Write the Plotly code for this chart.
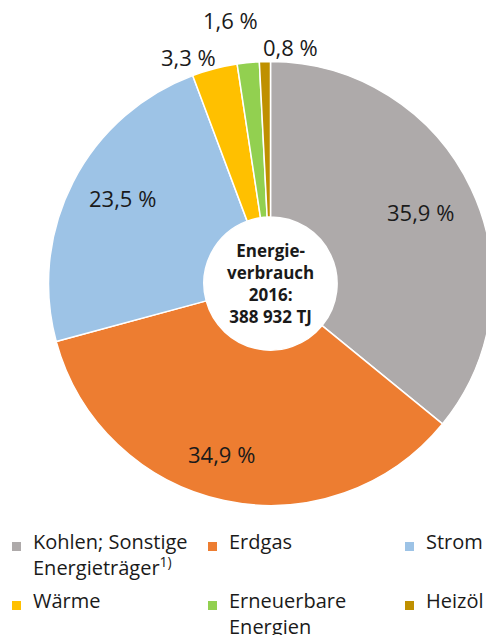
import math
import plotly.graph_objects as go

labels = ['Kohlen; Sonstige<br>Energieträger<sup>1)</sup>', 'Erdgas', 'Strom',
          'Wärme', 'Erneuerbare<br>Energien', 'Heizöl']
werte = [35.9, 34.9, 23.5, 3.3, 1.6, 0.8]
texte = ['35,9 %', '34,9 %', '23,5 %', '3,3 %', '1,6 %', '0,8 %']
farben = ['#aeaaaa', '#ed7d31', '#9dc3e6', '#ffc000', '#92d050', '#bf9000']

# Lage der Beschriftungen: Radius-Faktor und Winkelversatz (Grad)
label_r = [0.75, 0.80, 0.77, 1.085, 1.20, 1.07]
label_dw = [0, 4, 3, -5.4, -2.8, 6.2]

# Seite hat 8 px Rand -> Grafik etwas kleiner, Pixelangaben im Fenster
RAND = 8
W, H = 494 - RAND, 635 - RAND
cx, cy, R = 270.5, 283.5, 222


def fx(x):
    return (x - RAND) / W


def fy(y):
    return 1 - (y - RAND) / H


fig = go.Figure(go.Pie(
    labels=labels,
    values=werte,
    textinfo='none',
    hole=0.3,
    sort=False,
    direction='clockwise',
    rotation=0,
    showlegend=False,
    marker=dict(colors=farben, line=dict(color='white', width=1.5)),
    domain=dict(x=[fx(cx - R), fx(cx + R)], y=[fy(cy + R), fy(cy - R)]),
))

# Prozentwerte an den Mittelwinkeln der Segmente
summe = sum(werte)
kum = 0
for w, t, rf, dw in zip(werte, texte, label_r, label_dw):
    winkel = math.radians((kum + w / 2) / summe * 360 + dw)
    kum += w
    px = cx + rf * R * math.sin(winkel)
    py = cy - rf * R * math.cos(winkel)
    fig.add_annotation(x=fx(px), y=fy(py), xref='paper', yref='paper',
                       xanchor='center', yanchor='middle',
                       text=t, showarrow=False,
                       font=dict(size=22, color='#1a1a1a'))

fig.add_annotation(
    x=fx(cx), y=fy(cy), xref='paper', yref='paper',
    xanchor='center', yanchor='middle',
    text='<b>Energie-<br>verbrauch<br>2016:<br>388 932 TJ</b>',
    showarrow=False, font=dict(size=17, color='#1a1a1a'), align='center')

# Legende (3 Spalten, 2 Zeilen) von Hand
spalten_x = [12, 208, 405]
zeilen_y = [543, 602]
for i, (lab, col) in enumerate(zip(labels, farben)):
    sx = spalten_x[i % 3]
    sy = zeilen_y[i // 3]
    fig.add_shape(type='rect', xref='paper', yref='paper',
                  x0=fx(sx), x1=fx(sx + 9), y0=fy(sy - 1), y1=fy(sy + 8),
                  fillcolor=col, line=dict(width=0))
    fig.add_annotation(x=fx(sx + 19), y=fy(sy - 17), xref='paper', yref='paper',
                       xanchor='left', yanchor='top', align='left',
                       text=lab, showarrow=False,
                       font=dict(size=20, color='#1a1a1a'))

fig.update_layout(
    width=W, height=H,
    margin=dict(l=0, r=0, t=0, b=0),
    font=dict(family='Open Sans, sans-serif', color='#1a1a1a'),
    paper_bgcolor='white',
    showlegend=False,
)

fig.write_html('out.html')
